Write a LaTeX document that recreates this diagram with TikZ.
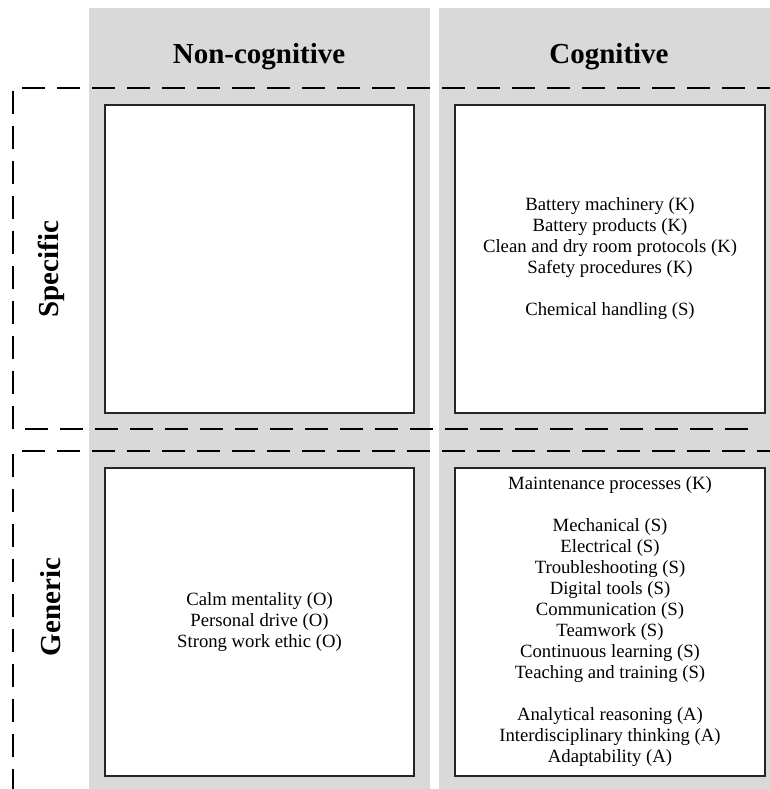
\documentclass[tikz,border=0pt]{standalone}
\usepackage{fontspec}
\setmainfont{Liberation Serif}
\begin{document}
\begin{tikzpicture}[x=1pt,y=-1pt,
  column/.style={fill=black!15,draw=none},
  cell/.style={draw=black!85,line width=1.05pt,fill=white},
  zone/.style={line width=1.2pt,dash pattern=on 23pt off 12pt},
  heading/.style={font=\fontsize{29}{33}\selectfont\bfseries,anchor=base},
  rowlabel/.style={font=\fontsize{29}{33}\selectfont\bfseries,rotate=90},
  items/.style={font=\fontsize{18.7}{21}\selectfont,align=center}]
\useasboundingbox (0,0) rectangle (769,789);

% grey column backgrounds
\fill[column] (89,8) rectangle (430,795);
\fill[column] (439,8) rectangle (775,795);

% column headings
\node[heading] (hnon) at (259,64) {Non-cognitive};
\node[heading] (hcog) at (609,64) {Cognitive};

% dashed zones
\draw[zone] (780,88) -- (13,88) -- (13,429) -- (757,429);
\draw[zone] (780,451) -- (13,451) -- (13,795);

% row labels
\node[rowlabel] (lspec) at (51,269) {Specific};
\node[rowlabel] (lgen) at (51,607) {Generic};

% cells
\draw[cell] (105,105) rectangle (414,413);
\draw[cell] (455,105) rectangle (765,413);
\draw[cell] (105,468) rectangle (414,776);
\draw[cell] (455,468) rectangle (765,776);

% cell contents
\node[items] (cs) at (610,259) {Battery machinery (K)\\Battery products (K)\\Clean and dry room protocols (K)\\Safety procedures (K)\\[21pt]Chemical handling (S)};
\node[items] (ng) at (259.5,622) {Calm mentality (O)\\Personal drive (O)\\Strong work ethic (O)};
\node[items] (cg) at (610,622) {Maintenance processes (K)\\[21pt]Mechanical (S)\\Electrical (S)\\Troubleshooting (S)\\Digital tools (S)\\Communication (S)\\Teamwork (S)\\Continuous learning (S)\\Teaching and training (S)\\[21pt]Analytical reasoning (A)\\Interdisciplinary thinking (A)\\Adaptability (A)};
\end{tikzpicture}
\end{document}
